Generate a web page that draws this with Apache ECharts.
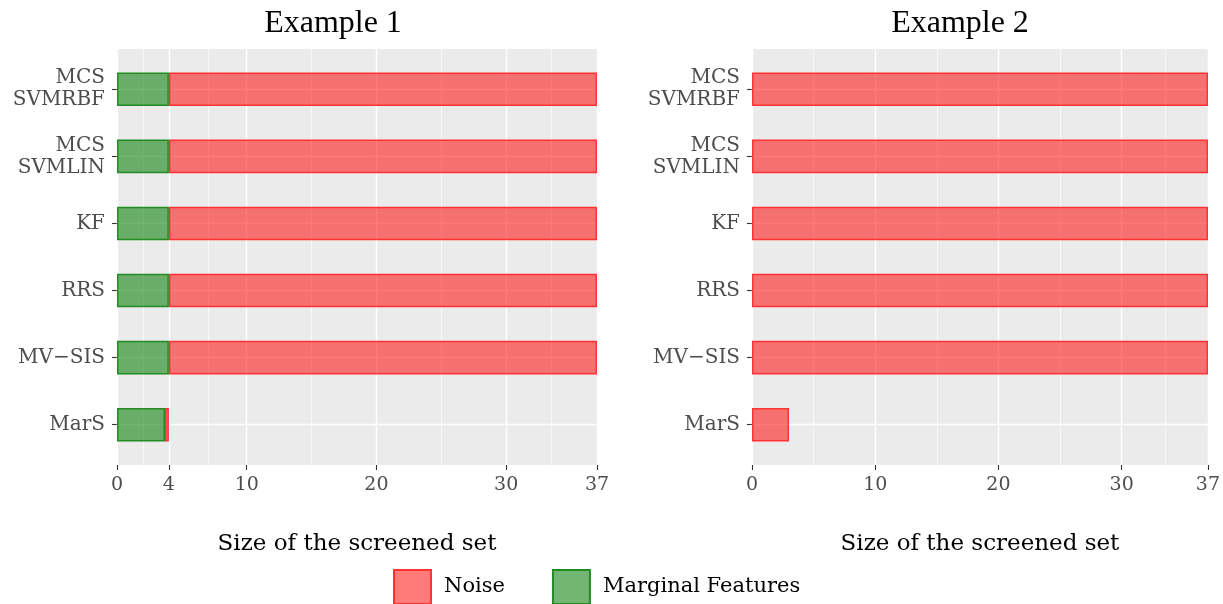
<!DOCTYPE html>
<html>
<head>
<meta charset="utf-8">
<script src="https://cdn.jsdelivr.net/npm/echarts@6/dist/echarts.min.js"></script>
<style>html,body{margin:0;padding:0;background:#fff}#c{width:1223px;height:604px}</style>
</head>
<body>
<div id="c"></div>
<script>
// ---- data ----
const categories = ['MarS', 'MV\u2212SIS', 'RRS', 'KF', 'MCS\nSVMLIN', 'MCS\nSVMRBF'];
const ex1Marginal = [3.7, 4, 4, 4, 4, 4];
const ex1Noise    = [0.3, 33, 33, 33, 33, 33];
const ex2Marginal = [0, 0, 0, 0, 0, 0];
const ex2Noise    = [3, 37, 37, 37, 37, 37];
const ex1Ticks = [0, 4, 10, 20, 30, 37];
const ex1Minor = [2, 7, 15, 25, 33.5];
const ex2Ticks = [0, 10, 20, 30, 37];
const ex2Minor = [5, 15, 25, 33.5];
const xMax = 37;
const titles = ['Example 1', 'Example 2'];
const xName = 'Size of the screened set';

// ---- styles ----
const FONT = 'DejaVu Serif';
const red = {color: 'rgba(255,0,0,0.52)', borderColor: '#FF3333', borderWidth: 1.5};
const green = {color: 'rgba(0,120,0,0.55)', borderColor: '#228B22', borderWidth: 1.5};
const panels = [
  {left: 117, width: 480, ticks: ex1Ticks, minor: ex1Minor, marg: ex1Marginal, noise: ex1Noise, titleX: 333},
  {left: 752, width: 456, ticks: ex2Ticks, minor: ex2Minor, marg: ex2Marginal, noise: ex2Noise, titleX: 960}
];
const panelTop = 49, panelH = 416;
const band = panelH / 6.2;

const grid = [], xAxis = [], yAxis = [], series = [], title = [];
panels.forEach((p, i) => {
  const gA = grid.length;
  grid.push({left: p.left, width: p.width, top: panelTop + 0.1 * band, height: band * 6, show: false});
  const gB = grid.length;
  grid.push({left: p.left, width: p.width, top: panelTop, height: panelH, show: true, backgroundColor: '#EBEBEB', borderWidth: 0});
  const xA = xAxis.length;
  xAxis.push({gridIndex: gA, type: 'value', min: 0, max: xMax, show: false});
  const xB = xAxis.length;
  xAxis.push({gridIndex: gB, type: 'value', min: 0, max: xMax,
    axisLine: {show: false}, splitLine: {show: false},
    axisTick: {show: true, customValues: p.ticks, length: 5, lineStyle: {color: '#333333', width: 1.1}},
    axisLabel: {customValues: p.ticks, color: '#4D4D4D', fontFamily: FONT, fontSize: 19, margin: 11},
    name: xName, nameLocation: 'middle', nameGap: 68,
    nameTextStyle: {color: '#000', fontFamily: FONT, fontSize: 23}
  });
  const yA = yAxis.length;
  yAxis.push({gridIndex: gA, type: 'category', data: categories,
    axisLine: {show: false}, splitLine: {show: false},
    axisTick: {show: true, alignWithLabel: true, length: 5, lineStyle: {color: '#333333', width: 1.1}},
    axisLabel: {color: '#4D4D4D', fontFamily: FONT, fontSize: 20, lineHeight: 22, margin: 12, align: 'right'}
  });
  const yB = yAxis.length;
  yAxis.push({gridIndex: gB, type: 'value', min: 0, max: 1, show: false});

  // vertical grid lines across the whole panel
  const vlines = p.ticks.map(v => ({xAxis: v, lineStyle: {color: '#fff', width: 1.4, type: 'solid'}}))
    .concat(p.minor.map(v => ({xAxis: v, lineStyle: {color: '#fff', width: 0.7, type: 'solid'}})));
  series.push({type: 'line', xAxisIndex: xB, yAxisIndex: yB, data: [], silent: true, z: 1,
    markLine: {z: 1, silent: true, symbol: ['none', 'none'], label: {show: false}, animation: false, data: vlines}});
  // horizontal grid lines at categories
  series.push({type: 'line', xAxisIndex: xA, yAxisIndex: yA, data: [], silent: true, z: 1,
    markLine: {z: 1, silent: true, symbol: ['none', 'none'], label: {show: false}, animation: false,
      data: categories.map(c => ({yAxis: c, lineStyle: {color: '#fff', width: 1.4, type: 'solid'}}))}});

  series.push({name: 'Marginal Features', type: 'bar', stack: 's' + i, xAxisIndex: xA, yAxisIndex: yA, z: 3,
    barWidth: '50%', itemStyle: green, data: p.marg.map(v => v === 0 ? '-' : v)});
  series.push({name: 'Noise', type: 'bar', stack: 's' + i, xAxisIndex: xA, yAxisIndex: yA, z: 3,
    barWidth: '50%', itemStyle: red, data: p.noise});

  title.push({text: titles[i], left: p.titleX, top: 8, textAlign: 'center', padding: 0,
    textStyle: {fontFamily: 'Liberation Serif', fontSize: 32, fontWeight: 'normal', color: '#000'}});
});

const chart = echarts.init(document.getElementById('c'), null, {renderer: 'canvas'});
chart.setOption({
  animation: false,
  title: title,
  grid: grid, xAxis: xAxis, yAxis: yAxis, series: series,
  legend: {data: ['Noise', 'Marginal Features'], left: 393, top: 569, padding: 0, orient: 'horizontal',
    itemWidth: 37, itemHeight: 34, itemGap: 47, icon: 'rect', selectedMode: false,
    textStyle: {fontFamily: FONT, fontSize: 21, color: '#000', padding: [0, 0, 0, 8]}}
});
</script>
</body>
</html>
